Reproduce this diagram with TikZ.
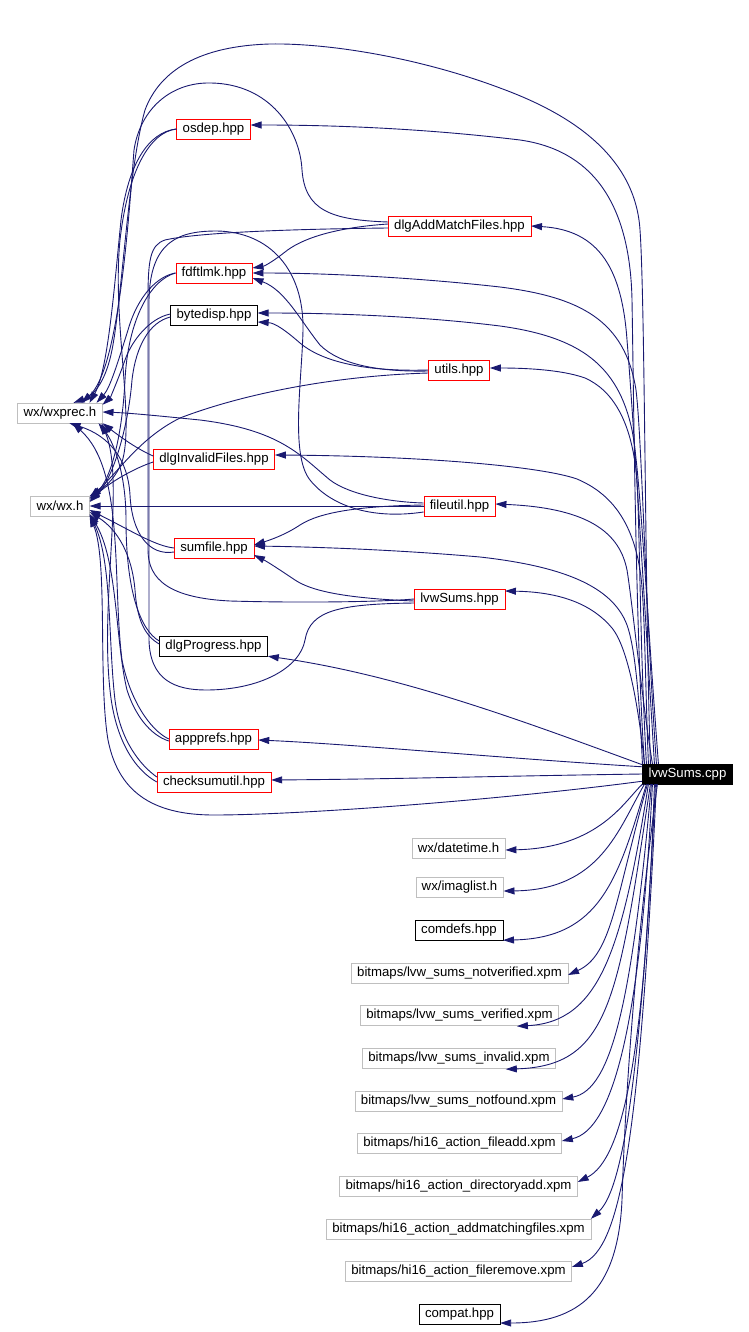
\documentclass[tikz,border=0pt]{standalone}
\usepackage{fontspec}
\setmainfont{Liberation Sans}
\usetikzlibrary{arrows.meta}

\definecolor{edgeblue}{HTML}{191970}
\definecolor{extgray}{HTML}{BFBFBF}

\tikzset{
  file/.style={draw, minimum height=20pt, inner xsep=6pt, inner ysep=0pt,
    font=\fontsize{13.2}{16}\selectfont},
  hdrred/.style={file, draw=red},
  hdrblack/.style={file, draw=black},
  hdrext/.style={file, draw=extgray},
  rootfile/.style={file, draw=black, fill=black, text=white},
  dep/.style={draw=edgeblue, line width=0.9pt, ->},
  passline/.style={draw=edgeblue, line width=0.9pt},
}

\begin{document}
\begin{tikzpicture}[x=1pt, y=-1pt, >={Triangle[length=11pt,width=7pt]}]

    \useasboundingbox (0,0) rectangle (748,1332);

    % --- Headers ---
    \node[hdrred]   (osdep)    at (213.5,129) {osdep.hpp};
    \node[hdrred]   (addmatch) at (459.5,226) {dlgAddMatchFiles.hpp};
    \node[hdrred]   (fdftlmk)  at (214,273)   {fdftlmk.hpp};
    \node[hdrblack] (bytedisp) at (214,315)   {bytedisp.hpp};
    \node[hdrred]   (utils)    at (459,370)   {utils.hpp};
    \node[hdrext]   (wxprec)   at (60,413)    {wx/wxprec.h};
    \node[hdrred]   (invalid)  at (214,459)   {dlgInvalidFiles.hpp};
    \node[hdrext]   (wxh)      at (60,506)    {wx/wx.h};
    \node[hdrred]   (fileutil) at (459.5,506) {fileutil.hpp};
    \node[hdrred]   (sumfile)  at (214,548)   {sumfile.hpp};
    \node[hdrred]   (lvwhpp)   at (459.5,599) {lvwSums.hpp};
    \node[hdrblack] (progress) at (213.5,646) {dlgProgress.hpp};
    \node[hdrred]   (appprefs) at (213.5,739) {appprefs.hpp};
    \node[hdrred]   (checksum) at (214,782)   {checksumutil.hpp};
    \node[rootfile] (lvwcpp)   at (687.5,774) {lvwSums.cpp};

    % --- Lower column ---
    \node[hdrext]   (datetime)     at (458.5,848)  {wx/datetime.h};
    \node[hdrext]   (imaglist)     at (459.5,887)  {wx/imaglist.h};
    \node[hdrblack] (comdefs)      at (459,930)    {comdefs.hpp};
    \node[hdrext]   (bmnotver)     at (459.5,973)  {bitmaps/lvw\_sums\_notverified.xpm};
    \node[hdrext]   (bmver)        at (459.5,1015) {bitmaps/lvw\_sums\_verified.xpm};
    \node[hdrext]   (bminvalid)    at (459,1058)   {bitmaps/lvw\_sums\_invalid.xpm};
    \node[hdrext]   (bmnotfound)   at (458.5,1101) {bitmaps/lvw\_sums\_notfound.xpm};
    \node[hdrext]   (bmfileadd)    at (459.5,1143) {bitmaps/hi16\_action\_fileadd.xpm};
    \node[hdrext]   (bmdiradd)     at (458.5,1186) {bitmaps/hi16\_action\_directoryadd.xpm};
    \node[hdrext]   (bmaddmatch)   at (458.5,1229) {bitmaps/hi16\_action\_addmatchingfiles.xpm};
    \node[hdrext]   (bmfileremove) at (458.5,1271) {bitmaps/hi16\_action\_fileremove.xpm};
    \node[hdrblack] (compat)       at (459.5,1314) {compat.hpp};

    % --- lvwSums.cpp, upwards ---
    \draw[dep] ([xshift=2pt]lvwcpp.north west) .. controls (636,640) and (634,420) .. (632,300)
        .. controls (630,200) and (590,150) .. (520,140) .. controls (420,128) and (330,125) .. ([yshift=4pt]osdep.east);
    \draw[dep] ([xshift=8pt]lvwcpp.north west) .. controls (645,600) and (645,300) .. (640,230)
        .. controls (635,150) and (560,110) .. (500,88) .. controls (420,58) and (330,43) .. (270,44)
        .. controls (200,46) and (160,70) .. (145,110) .. controls (128,170) and (122,300) .. (112,350)
        .. controls (106,380) and (95,395) .. ([xshift=-29pt]wxprec.north east);
    \draw[dep] ([xshift=12pt]lvwcpp.north west) .. controls (642,560) and (632,400) .. (627,340)
        .. controls (622,270) and (600,230) .. (addmatch.east);
    \draw[dep] ([xshift=14pt]lvwcpp.north west) .. controls (645,600) and (642,440) .. (636,390)
        .. controls (625,320) and (580,297) .. (500,287) .. controls (420,278) and (330,273) .. (fdftlmk.east);
    \draw[dep] ([xshift=16pt]lvwcpp.north west) .. controls (646,600) and (640,470) .. (632,430)
        .. controls (618,365) and (580,337) .. (500,326) .. controls (420,316) and (330,313) .. ([yshift=2pt]bytedisp.east);
    \draw[dep] ([xshift=4pt]lvwcpp.north west) .. controls (640,650) and (640,540) .. (637,480)
        .. controls (632,420) and (612,390) .. (585,378) .. controls (560,369) and (520,368) .. ([yshift=2pt]utils.east);
    \draw[dep] ([xshift=6pt]lvwcpp.north west) .. controls (645,680) and (645,600) .. (640,570)
        .. controls (632,520) and (610,493) .. (577,479) .. controls (540,466) and (420,456) .. ([yshift=4pt]invalid.east);
    \draw[dep] ([xshift=10pt]lvwcpp.north west) .. controls (642,700) and (632,600) .. (627,570)
        .. controls (620,535) and (592,508) .. ([yshift=2pt]fileutil.east);
    \draw[dep] (lvwcpp.north west) .. controls (640,710) and (636,650) .. (627,625)
        .. controls (612,585) and (560,566) .. (480,557) .. controls (400,550) and (320,547) .. ([yshift=2pt]sumfile.east);
    \draw[dep] ([xshift=2pt]lvwcpp.north west) .. controls (640,720) and (630,650) .. (612,628)
        .. controls (592,604) and (560,592) .. ([yshift=8pt]lvwhpp.east);
    \draw[dep] ([yshift=-1pt]lvwcpp.north west) .. controls (520,720) and (400,675) .. (progress.south east);
    \draw[dep] ([yshift=-3pt]lvwcpp.north west) .. controls (500,758) and (350,744) .. ([yshift=-1pt]appprefs.east);
    \draw[dep] (lvwcpp.west) .. controls (500,776) and (400,779) .. ([yshift=2pt]checksum.east);
    \draw[dep] ([yshift=3pt]lvwcpp.south west) .. controls (500,800) and (300,815) .. (214,815)
        .. controls (150,815) and (118,790) .. (108,740) .. controls (98,680) and (108,560) .. ([yshift=-10pt]wxh.east);

    % --- lvwSums.cpp, downwards ---
    \draw[dep] (lvwcpp.south west) .. controls (625,800) and (600,848) .. ([yshift=-2pt]datetime.east);
    \draw[dep] ([xshift=2pt]lvwcpp.south west) .. controls (618,830) and (600,890) .. ([yshift=-4pt]imaglist.east);
    \draw[dep] ([xshift=4pt]lvwcpp.south west) .. controls (618,880) and (600,938) .. (comdefs.south east);
    \draw[dep] ([xshift=5pt]lvwcpp.south west) .. controls (615,900) and (612,955) .. ([yshift=-2pt]bmnotver.east);
    \draw[dep] ([xshift=6pt]lvwcpp.south west) .. controls (622,950) and (600,1022) .. ([xshift=-42pt,yshift=-1pt]bmver.south east);
    \draw[dep] ([xshift=8pt]lvwcpp.south west) .. controls (618,1000) and (610,1066) .. ([xshift=-50pt,yshift=-1pt]bminvalid.south east);
    \draw[dep] ([xshift=9pt]lvwcpp.south west) .. controls (632,1000) and (612,1090) .. ([yshift=2pt]bmnotfound.east);
    \draw[dep] ([xshift=10pt]lvwcpp.south west) .. controls (640,1030) and (612,1130) .. ([yshift=2pt]bmfileadd.east);
    \draw[dep] ([xshift=12pt]lvwcpp.south west) .. controls (645,1060) and (622,1160) .. ([yshift=4pt]bmdiradd.east);
    \draw[dep] ([xshift=13pt]lvwcpp.south west) .. controls (640,1100) and (620,1192) .. (bmaddmatch.north east);
    \draw[dep] ([xshift=14pt]lvwcpp.south west) .. controls (640,1130) and (622,1250) .. ([yshift=4pt]bmfileremove.east);
    \draw[dep] ([xshift=15pt]lvwcpp.south west) .. controls (635,950) and (625,1100) .. (622,1200)
        .. controls (618,1290) and (580,1323) .. ([yshift=-9pt]compat.east);

    % --- between headers ---
    \draw[dep] ([yshift=2pt]addmatch.west) .. controls (330,228) and (300,240) .. (285,252)
        .. controls (275,260) and (265,266) .. ([yshift=5pt]fdftlmk.east);
    \draw[dep] ([yshift=-1pt]utils.west) .. controls (380,372) and (340,365) .. (320,345)
        .. controls (300,320) and (285,290) .. ([yshift=-5pt]fdftlmk.east);
    \draw[dep] (utils.west) .. controls (360,372) and (320,360) .. (300,343)
        .. controls (285,330) and (275,323) .. ([yshift=-7pt]bytedisp.east);
    \draw[dep] ([yshift=1pt]fileutil.west) .. controls (360,506) and (320,512) .. (300,525)
        .. controls (285,535) and (270,540) .. ([yshift=3pt]sumfile.east);
    \draw[dep] ([yshift=-2pt]lvwhpp.west) .. controls (340,598) and (310,590) .. (295,580)
        .. controls (280,570) and (268,562) .. ([yshift=-7pt]sumfile.east);
    \draw[passline] ([yshift=-2pt]addmatch.west) .. controls (300,229) and (200,232) .. (165,240)
        .. controls (150,245) and (148,260) .. (148,300) -- (148,550)
        .. controls (148,580) and (170,598) .. (230,601) .. controls (300,603) and (380,602) .. (lvwhpp.west);
    \draw[passline] ([yshift=-6pt]fileutil.west) .. controls (370,520) and (330,505) .. (310,480)
        .. controls (290,455) and (302,380) .. (303,330) .. controls (304,270) and (270,232) .. (217,231)
        .. controls (180,231) and (150,240) .. (149,300) -- (149,640)
        .. controls (150,680) and (175,690) .. (206,690) .. controls (260,690) and (300,668) .. (305,640)
        .. controls (310,610) and (340,604) .. ([yshift=-4pt]lvwhpp.west);

    % --- into wx/wxprec.h ---
    \draw[dep] ([yshift=4pt]addmatch.west) .. controls (330,220) and (305,210) .. (302,170)
        .. controls (300,130) and (270,84) .. (211,83) .. controls (170,82) and (140,110) .. (134,150)
        .. controls (128,230) and (118,370) .. ([xshift=-21pt]wxprec.north east);
    \draw[dep] (osdep.west) .. controls (148,132) and (128,165) .. (121,220)
        .. controls (114,290) and (108,370) .. ([xshift=-13pt]wxprec.north east);
    \draw[dep] (fdftlmk.west) .. controls (158,276) and (138,295) .. (128,330)
        .. controls (118,362) and (110,388) .. ([xshift=-6pt]wxprec.north east);
    \draw[dep] ([yshift=1pt]bytedisp.west) .. controls (150,318) and (132,340) .. (125,360)
        .. controls (118,380) and (110,398) .. ([yshift=-2pt]wxprec.north east);
    \draw[dep] ([yshift=3pt]invalid.west) .. controls (135,448) and (118,435) .. (wxprec.south east);
    \draw[dep] ([yshift=3pt]fileutil.west) .. controls (390,502) and (350,495) .. (330,480)
        .. controls (300,455) and (280,430) .. (200,420) .. controls (160,416) and (130,413) .. ([yshift=1pt]wxprec.east);
    \draw[dep] ([yshift=-4pt]sumfile.west) .. controls (150,556) and (132,535) .. (130,495)
        .. controls (128,460) and (110,436) .. ([xshift=-33pt]wxprec.south east);
    \draw[dep] ([yshift=5pt]progress.west) .. controls (140,630) and (126,590) .. (126,520)
        .. controls (126,470) and (112,440) .. ([xshift=-4pt]wxprec.south east);
    \draw[dep] (appprefs.west) .. controls (150,730) and (130,700) .. (122,660)
        .. controls (112,580) and (125,470) .. ([xshift=-30pt]wxprec.south east);
    \draw[dep] (checksum.west) .. controls (135,770) and (115,740) .. (110,690)
        .. controls (100,600) and (125,480) .. ([xshift=-1pt]wxprec.south east);

    % --- into wx/wx.h ---
    \draw[dep] (fileutil.west) -- (wxh.east);
    \draw[dep] (osdep.west) .. controls (150,132) and (128,170) .. (120,240)
        .. controls (112,320) and (135,420) .. (122,462) .. controls (114,482) and (100,490) .. ([yshift=10pt]wxh.east);
    \draw[dep] ([yshift=-3pt]utils.west) .. controls (330,376) and (240,395) .. (180,418)
        .. controls (140,438) and (120,470) .. ([yshift=8pt]wxh.east);
    \draw[dep] (fdftlmk.west) .. controls (150,280) and (128,320) .. (125,380)
        .. controls (122,440) and (110,480) .. ([yshift=7pt]wxh.east);
    \draw[dep] ([yshift=-3pt]invalid.west) .. controls (135,468) and (110,482) .. ([yshift=5pt]wxh.east);
    \draw[dep] ([yshift=-2pt]bytedisp.west) .. controls (150,322) and (136,345) .. (132,380)
        .. controls (128,430) and (112,480) .. ([yshift=4pt]wxh.east);
    \draw[dep] (sumfile.west) .. controls (155,546) and (130,530) .. ([yshift=-4pt]wxh.east);
    \draw[dep] ([yshift=2pt]progress.west) .. controls (145,636) and (137,620) .. (135,590)
        .. controls (132,555) and (118,530) .. ([yshift=-6pt]wxh.east);
    \draw[dep] ([yshift=-2pt]appprefs.west) .. controls (150,735) and (135,715) .. (127,690)
        .. controls (115,640) and (118,560) .. ([yshift=-8pt]wxh.east);
    \draw[dep] ([yshift=5pt]checksum.west) .. controls (140,765) and (120,740) .. (115,700)
        .. controls (108,640) and (112,560) .. ([yshift=-9pt]wxh.east);

\end{tikzpicture}
\end{document}
